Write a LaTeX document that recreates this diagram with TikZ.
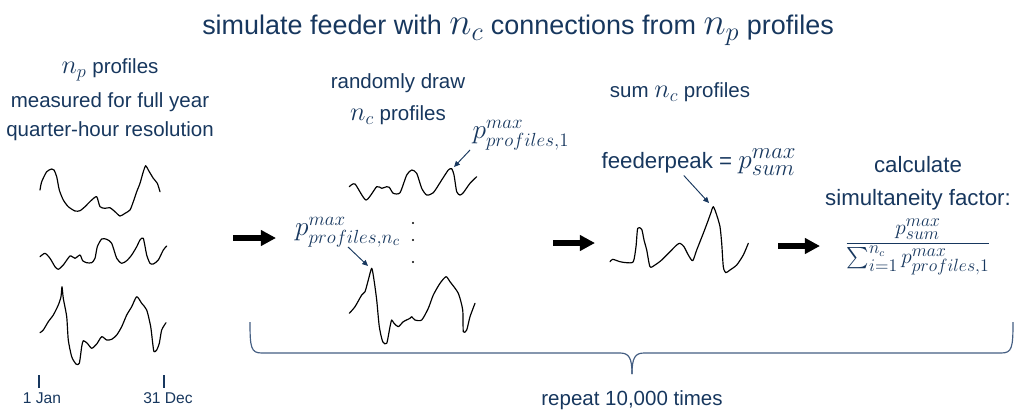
\documentclass[tikz,border=0pt]{standalone}
\usepackage{amsmath}
\usepackage{graphicx}
\usepackage{fontspec}
\setmainfont{Liberation Sans}
\usetikzlibrary{arrows.meta}
\definecolor{navy}{RGB}{23,55,94}
\definecolor{bracecol}{RGB}{68,94,130}
\newcommand{\mvar}[2][1.3]{\scalebox{#1}{$#2$}}

\begin{document}
\begin{tikzpicture}[x=0.03cm,y=-0.03cm]
\tikzstyle{every node}=[text=navy,inner sep=0pt]
\tikzstyle{titletxt}=[font=\fontsize{23}{27}\selectfont]
\tikzstyle{txt}=[font=\fontsize{17.5}{21}\selectfont]
\tikzstyle{bigtxt}=[font=\fontsize{19}{23}\selectfont]
\tikzstyle{smalltxt}=[font=\fontsize{13.3}{16}\selectfont]
\tikzstyle{profile}=[black,line width=1pt,line join=round,line cap=round]
\tikzstyle{stagearrow}=[black,line width=4.3pt,-{Triangle[length=13pt,width=13pt]}]
\tikzstyle{pointer}=[navy,line width=0.8pt,-{Triangle[length=5pt,width=4.5pt]}]
\tikzstyle{brace}=[bracecol,line width=1pt]

\useasboundingbox (0,0) rectangle (1017,413);

%% Title
\node [titletxt] (title) at (518,30) {simulate feeder with \mvar{n_c} connections from \mvar{n_p} profiles};

%% Measured profiles
\node [txt] (np) at (110,70) {\mvar{n_p} profiles};
\node [txt] (measured) at (110,102) {measured for full year};
\node [txt] (resolution) at (110,131) {quarter-hour resolution};

\draw [profile] plot[smooth,tension=0.4] coordinates {(40,190) (41.7,181.7) (46.7,171.7) (51.7,169) (54,170) (56.7,176.7) (59.3,190) (63.3,200) (68.3,206.7) (75,211) (80,210.7) (85,206.7) (88.3,203.3) (91.7,200) (96.7,196.7) (100,206.7) (105,208.3) (110,207.7) (115,211.7) (120,216) (125,213.3) (130,210) (133.3,201.7) (136.7,191.7) (140,183.3) (143.3,171.7) (145.7,165.7) (148.3,170) (153.3,178.3) (157.3,183.3) (160,191.7)};
\draw [profile] plot[smooth,tension=0.4] coordinates {(40,256.7) (45,253.3) (50,258.3) (55,266.7) (58.3,269.3) (63.3,265) (70,256) (75,258.3) (80,255) (82.7,260.7) (86.7,262.7) (91.7,262.7) (95,258.3) (97.3,246.7) (101.7,239) (106.7,239.3) (111.7,243.3) (116.7,258.3) (121.7,263.3) (126.7,260.7) (131.7,255) (136.7,246.7) (140,240) (143.3,238.3) (146.7,255) (150,263.3) (153.3,264) (158.3,260) (163.3,250) (166.7,246)};
\draw [profile] plot[smooth,tension=0.4] coordinates {(40,332.7) (43.3,330) (48.3,321.7) (53.3,315) (58.3,305) (61,296.7) (62,286.7) (63.3,298.3) (66.7,316.7) (68.3,340) (71.7,356.7) (76,364) (79.3,363.3) (81.7,346.7) (83.3,340.7) (87.3,343.3) (91.7,348.3) (96.7,344) (101.7,336.7) (106.7,340) (111.7,339.3) (116.7,335) (121.7,326.7) (126.7,315) (131.7,306.7) (136.7,296.7) (141.7,303.3) (146.7,310) (150.7,326.7) (152.7,343.3) (154,351.7) (156.7,350) (159.3,343.3) (161.7,330) (166,322.7)};

%% Time axis
\draw [navy,line width=1pt] (39,375) -- (39,388);
\draw [navy,line width=1pt] (164,375) -- (164,388);
\node [smalltxt] (jan) at (42,398) {1 Jan};
\node [smalltxt] (dec) at (168,398) {31 Dec};

\coordinate (arrowA-s) at (233,238);
\coordinate (arrowA-e) at (276,238);
\draw [stagearrow] (arrowA-s) -- (arrowA-e);

%% Randomly drawn profiles
\node [txt] (draw) at (398,83) {randomly draw};
\node [txt] (nc) at (398,115) {\mvar{n_c} profiles};

\draw [profile] plot[smooth,tension=0.4] coordinates {(349.3,186.7) (355,184) (366,200) (376.7,186.7) (381.7,188.3) (386.7,186.7) (389.3,187.3) (393.3,193.3) (400,192.7) (406.7,175) (411.7,170) (416.7,173.3) (421.7,188.3) (426.7,195) (433.3,192.7) (441.7,180) (448.3,170) (451.7,168.7) (454,175) (456.7,191.7) (460,195) (463.3,192.7) (470,183.3) (476.7,176.7)};
\draw [profile] plot[smooth,tension=0.4] coordinates {(349.3,313.3) (355,306.7) (361.7,295) (365,291.7) (368.3,280) (371.7,268.3) (374,280) (376.7,300) (379.3,326.7) (382.7,341.7) (386.7,343.3) (390,326.7) (391.7,320) (394,323.3) (398.3,326.7) (403.3,321.7) (410,318.3) (411.7,316.7) (415,320) (421.7,320) (428.3,308.3) (433.3,295) (440,283.3) (446,276.7) (450,281.7) (458.3,293.3) (462.7,310) (463.3,331.7) (466.7,330) (470,316.7) (475,303.3)};

\foreach \y in {223,240,262}
    \fill [black] (413,\y) circle (1.2);

\node [txt] (pmax1) at (521,135) {\mvar[1.35]{p^{max}_{profiles,1}}};
\node [txt] (pmaxnc) at (348,232) {\mvar[1.35]{p^{max}_{profiles,n_c}}};
\coordinate (peak1) at (454,167);
\coordinate (peaknc) at (368,266);
\draw [pointer] ([xshift=-2pt]pmax1.south west) -- (peak1);
\draw [pointer] (pmaxnc.south) -- (peaknc);

\coordinate (arrowB-s) at (553,243);
\coordinate (arrowB-e) at (595,243);
\draw [stagearrow] (arrowB-s) -- (arrowB-e);

%% Summed profile
\node [txt] (sum) at (680,92) {sum \mvar{n_c} profiles};
\node [bigtxt] (fpeak) at (699,162) {feederpeak = \mvar[1.35]{p^{max}_{sum}}};

\draw [profile] plot[smooth,tension=0.4] coordinates {(610,261.7) (612.7,259.3) (620,261.7) (626.7,262.7) (633.3,261.7) (636,246.7) (637.7,228.3) (641.7,229.3) (644,240) (646.7,250) (650,266.7) (655,265) (661.7,260) (670,251.7) (676.7,245) (680,243.3) (684,246.7) (688.3,255) (692.7,260.7) (696.7,250) (703.3,233.3) (708.3,220) (710.7,213.3) (713.3,206.7) (716.7,215) (720,226.7) (721.7,243.3) (723.3,266.7) (725.7,272.7) (730,270) (736.7,265) (743.3,255) (748.3,243.3)};

\coordinate (peaksum) at (709,203);
\draw [pointer] ([xshift=-13pt]fpeak.south) -- (peaksum);

\coordinate (arrowC-s) at (778,246);
\coordinate (arrowC-e) at (820,246);
\draw [stagearrow] (arrowC-s) -- (arrowC-e);

%% Simultaneity factor
\node [bigtxt] (calc) at (918,165) {calculate};
\node [bigtxt] (simul) at (918,200) {simultaneity factor:};
\node [bigtxt] (simfrac) at (918,247) {\mvar[1.05]{\displaystyle\frac{p^{max}_{sum}}{\textstyle\sum_{i=1}^{n_c}p^{max}_{profiles,1}}}};

%% Repeat brace
\coordinate (brace-l) at (250,322);
\coordinate (brace-r) at (1013,322);
\coordinate (brace-tip) at (632,374);
\draw [brace] (brace-l) .. controls (250,348) and (251,353) .. (262,353) -- (620,353) .. controls (629,353) and (632,358) .. (brace-tip);
\draw [brace] (brace-r) .. controls (1013,348) and (1012,353) .. (1001,353) -- (644,353) .. controls (635,353) and (632,358) .. (brace-tip);
\node [txt] (repeat) at (632,400) {repeat 10,000 times};
\end{tikzpicture}
\end{document}
